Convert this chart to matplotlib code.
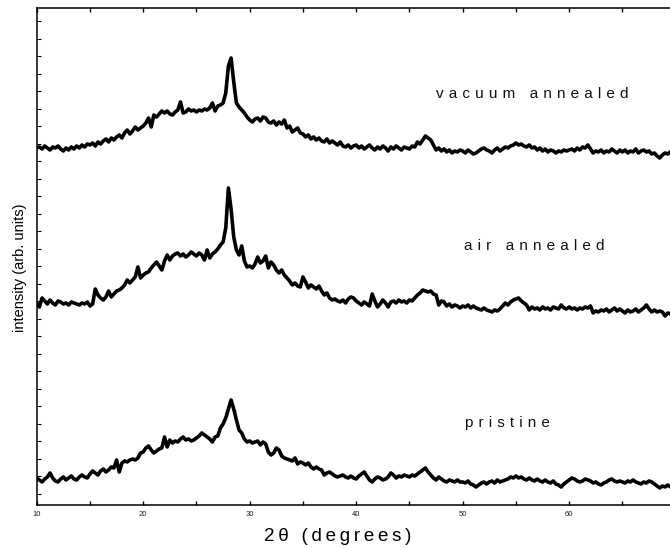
import numpy as np
import matplotlib
matplotlib.use("Agg")
import matplotlib.pyplot as plt
from matplotlib.ticker import MultipleLocator

# 2-theta scan, 0.25 degree steps from 10 to 70
two_theta = np.arange(10.0, 70.0001, 0.25)

# Stacked XRD patterns (arbitrary intensity units, offsets included)
vacuum_annealed = [
    346, 347, 345, 348, 346, 344, 347, 346, 348, 345, 343, 346, 344, 347, 345, 348, 346, 349, 347, 350,
    349, 351, 348, 352, 350, 353, 355, 352, 356, 354, 357, 359, 356, 361, 364, 360, 363, 367, 364, 366,
    368, 371, 376, 367, 379, 377, 380, 383, 381, 383, 380, 379, 382, 384, 392, 381, 382, 385, 383, 384,
    382, 384, 383, 385, 384, 386, 391, 383, 388, 389, 391, 401, 428, 436, 412, 391, 387, 384, 381, 377,
    374, 372, 375, 376, 373, 377, 376, 372, 371, 373, 369, 372, 370, 374, 366, 368, 362, 364, 366, 361,
    360, 357, 359, 355, 357, 354, 356, 353, 352, 355, 351, 353, 351, 349, 352, 348, 347, 349, 346, 348,
    349, 346, 348, 345, 347, 349, 346, 344, 347, 345, 348, 346, 343, 347, 345, 348, 346, 344, 347, 346,
    345, 348, 347, 352, 350, 354, 358, 356, 354, 349, 344, 346, 343, 345, 342, 344, 341, 343, 342, 344,
    343, 341, 344, 342, 340, 341, 343, 345, 346, 344, 343, 341, 344, 346, 343, 345, 347, 346, 348, 349,
    351, 349, 350, 348, 347, 349, 346, 347, 344, 346, 343, 345, 342, 344, 343, 341, 343, 342, 344, 343,
    344, 345, 343, 346, 344, 347, 346, 349, 345, 341, 343, 342, 344, 341, 343, 342, 345, 343, 341, 344,
    342, 344, 341, 343, 342, 345, 341, 343, 344, 342, 343, 340, 341, 338, 336, 339, 341, 340, 342, 341,
    340,
]

air_annealed = [
    191, 187, 196, 193, 190, 194, 191, 189, 193, 192, 190, 191, 189, 192, 191, 190, 189, 191, 190, 192,
    188, 190, 205, 199, 196, 194, 197, 203, 197, 200, 203, 204, 206, 209, 214, 211, 214, 217, 227, 216,
    219, 221, 222, 226, 229, 232, 228, 224, 233, 239, 234, 238, 240, 241, 238, 240, 237, 239, 242, 240,
    238, 241, 239, 234, 244, 236, 240, 242, 245, 249, 252, 266, 306, 285, 257, 244, 239, 248, 233, 227,
    228, 226, 230, 237, 231, 233, 238, 226, 232, 229, 224, 221, 224, 219, 216, 213, 209, 211, 208, 207,
    217, 212, 206, 209, 207, 205, 208, 203, 199, 201, 196, 194, 195, 193, 192, 194, 191, 195, 197, 196,
    193, 191, 189, 192, 190, 188, 200, 193, 187, 190, 194, 191, 187, 192, 193, 191, 194, 192, 193, 191,
    194, 193, 196, 199, 201, 204, 203, 202, 203, 200, 199, 189, 193, 192, 188, 190, 187, 189, 188, 186,
    188, 187, 189, 186, 188, 186, 185, 184, 186, 184, 183, 182, 184, 183, 185, 188, 191, 189, 192, 194,
    195, 196, 193, 191, 189, 184, 187, 185, 186, 184, 187, 185, 186, 184, 187, 186, 185, 189, 186, 185,
    187, 185, 186, 184, 186, 185, 187, 186, 188, 181, 183, 182, 184, 183, 185, 182, 184, 186, 183, 185,
    183, 181, 184, 182, 183, 185, 182, 184, 186, 189, 185, 182, 184, 182, 183, 182, 178, 181, 180, 182,
    181,
]

pristine = [
    16, 14, 12, 15, 17, 21, 16, 13, 12, 15, 17, 14, 16, 18, 15, 14, 17, 19, 17, 16,
    20, 23, 21, 19, 23, 25, 22, 24, 27, 26, 34, 22, 31, 33, 32, 34, 35, 34, 36, 41,
    42, 46, 48, 44, 41, 43, 45, 46, 57, 47, 54, 51, 53, 52, 55, 57, 54, 55, 53, 54,
    56, 58, 61, 59, 57, 55, 52, 57, 58, 66, 70, 76, 85, 94, 85, 74, 64, 61, 55, 52,
    53, 51, 52, 53, 49, 52, 50, 42, 39, 41, 46, 44, 38, 36, 35, 34, 33, 36, 30, 32,
    31, 29, 31, 27, 25, 27, 25, 24, 19, 21, 22, 20, 18, 17, 18, 19, 17, 16, 18, 16,
    15, 18, 20, 22, 18, 14, 12, 15, 17, 16, 14, 15, 17, 21, 19, 16, 18, 17, 19, 18,
    17, 19, 18, 20, 22, 24, 26, 22, 19, 16, 14, 17, 15, 13, 12, 14, 13, 12, 14, 12,
    12, 11, 13, 10, 9, 7, 9, 11, 12, 10, 12, 13, 11, 14, 12, 13, 14, 15, 17, 16,
    18, 16, 17, 15, 14, 16, 14, 13, 15, 13, 12, 14, 12, 11, 13, 10, 9, 7, 10, 12,
    14, 16, 15, 13, 12, 13, 15, 14, 13, 11, 12, 10, 9, 11, 12, 14, 15, 13, 12, 13,
    12, 11, 13, 12, 14, 12, 11, 10, 12, 11, 13, 12, 10, 8, 6, 8, 7, 9, 7, 8,
    8,
]

sample_names = ["vacuum annealed", "air annealed", "pristine"]
x_ticks = [10, 20, 30, 40, 50, 60, 70]

FONT = ["Liberation Sans", "DejaVu Sans"]
plt.rcParams["font.family"] = FONT


def tracked(s, gap="\u2004"):
    """Spread the letters of a label with narrow spaces."""
    return gap.join(s)


fig = plt.figure(figsize=(6.7, 5.48), dpi=100)
ax = fig.add_axes([0.0548, 0.0785, 0.9537, 0.906])

for series in (vacuum_annealed, air_annealed, pristine):
    ax.plot(two_theta, series, color="black", lw=2.6,
            solid_joinstyle="round", solid_capstyle="round")

ax.set_xlim(10, 70)
ax.set_ylim(-11, 485.5)

ax.set_xticks(x_ticks)
ax.set_xticklabels([str(t) for t in x_ticks])
ax.xaxis.set_minor_locator(MultipleLocator(5))
ax.yaxis.set_major_locator(MultipleLocator(17.5))
ax.set_yticklabels([])

ax.tick_params(axis="x", which="both", direction="in", length=3.2, width=1.0,
               top=True, labelsize=5.5, pad=4.5, labelcolor="#222222")
ax.tick_params(axis="y", which="both", direction="in", length=3.0, width=0.8,
               left=True, right=False, labelleft=False)

for sp in ax.spines.values():
    sp.set_linewidth(1.1)

ax.set_xlabel("2\u2009\u03b8\u2009 \u2009(\u2009d\u2009e\u2009g\u2009r\u2009e\u2009e\u2009s\u2009)",
              fontsize=13.5)
ax.xaxis.set_label_coords(0.4707, -0.046)
ax.set_ylabel("intensity (arb. units)", fontsize=10.5)
ax.yaxis.set_label_coords(-0.0146, 0.477)

label_pos = [(47.5, 396), (50.1, 244), (50.2, 67)]
for name, (lx, ly) in zip(sample_names, label_pos):
    words = name.split(" ")
    text = "\u2004 \u2004".join(tracked(w) for w in words)
    ax.text(lx, ly, text, fontsize=11, ha="left", va="baseline", color="#111111")

fig.savefig("out.png", dpi=100)
